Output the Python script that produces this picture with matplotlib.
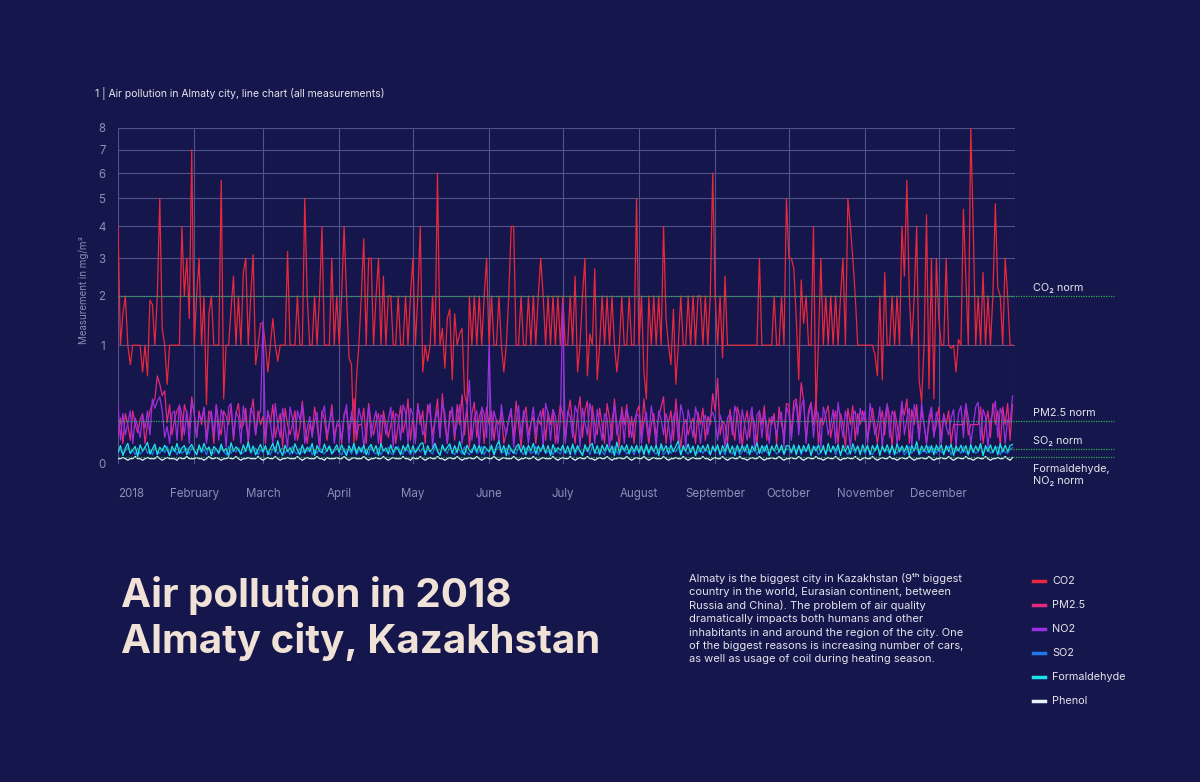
import numpy as np
import matplotlib
matplotlib.use("Agg")
import matplotlib.pyplot as plt
from matplotlib.lines import Line2D

plt.rcParams['font.family'] = ['Inter', 'DejaVu Sans']

# daily values for 2018; CO2 in mg/m3, the rest in µg/m3
co2 = [
    4, 1, 1.6, 2, 1, 0.7, 1, 1, 1, 1, 0.6, 1, 0.55, 1.9, 1.8, 1, 2, 5, 1.3, 1, 0.45, 1, 1, 1, 1, 1, 4, 2, 3, 1.5, 7,  # jan
    1, 2, 3, 1, 2, 0.25, 1.6, 2, 1, 1, 1, 5.7, 0.3, 1, 1, 1.7, 2.5, 1, 2, 1, 2.6, 3, 1, 2, 3.1, 0.7, 1, 1.4,  # feb
    1.4, 1, 0.6, 1, 1.5, 1, 0.75, 1, 1, 1, 3.2, 1, 1, 1, 2, 1, 1, 5, 2, 1, 1, 2, 1, 2, 4, 1, 1, 1, 3, 1, 2,  # mar
    1, 2, 4, 2, 0.8, 0.7, 0.03, 0.5, 1, 2, 3.6, 1, 3, 3, 1, 2, 3, 1, 2.5, 1, 2, 2, 1, 1, 2, 1, 1, 2, 1, 2,  # apr
    3, 1, 2, 4, 0.6, 1, 0.75, 1, 2, 1, 6, 1, 1.3, 0.65, 1.5, 1.7, 0.5, 1.6, 1, 1.2, 1.3, 0.35, 0.25, 2, 1, 2, 1, 2, 1, 2, 3,  # may
    1, 2, 1, 1, 2, 1, 0.6, 1, 2, 4, 4, 1, 1, 2, 1, 1, 2, 1, 2, 1, 2, 3, 2, 1, 2, 1, 2, 1, 2, 1,  # jun
    2, 1, 1, 2, 1, 2.5, 0.6, 1, 2, 3, 0.55, 1.2, 1, 2.7, 0.5, 1, 2, 1, 2, 1, 2, 1, 0.6, 1, 2, 1, 1, 2, 1, 1, 5,  # jul
    1, 2, 0.6, 0.3, 2, 1, 2, 1, 2, 1, 4, 1.5, 1, 0.7, 1.7, 0.45, 1, 2, 1, 1, 2, 1, 2, 1, 2, 2, 1, 2, 1, 2, 6,  # aug
    2, 1, 2, 0.8, 2.5, 1, 1, 1, 1, 1, 1, 1, 1, 1, 1, 1, 1, 1, 3, 1, 1, 1, 1, 1, 2, 1, 1, 2, 1, 5,  # sep
    3, 3, 2.7, 1.5, 0.5, 2.4, 1.4, 2, 1, 1, 4, 0.2, 1, 3, 1, 2, 1, 2, 1, 2, 1, 2, 3, 1, 5, 4, 3, 2, 1, 1, 1,  # oct
    1, 1, 1, 1, 0.85, 0.55, 2, 0.5, 2.6, 1, 1, 2, 1, 2, 1, 4, 2.5, 5.7, 2, 1, 2, 4, 0.5, 0.27, 1, 4.4, 0.4, 3, 0.3, 3,  # nov
    1.5, 1, 1, 3, 1, 0.95, 1, 0.6, 1.1, 1, 4.6, 2.5, 1, 8, 4, 1, 2, 1, 2.6, 1, 2, 1, 2, 4.8, 2.2, 2, 1, 3, 2, 1, 1,  # dec
]
pm25 = [
    60, 150, 30, 180, 110, 40, 200, 110, 70, 140, 180, 30, 110, 200, 260, 300, 550, 450, 330, 380, 120, 250, 60, 140, 200, 240, 40, 250, 180, 90, 320,
    180, 50, 200, 110, 220, 40, 200, 160, 30, 250, 110, 60, 200, 160, 110, 240, 40, 180, 260, 90, 110, 220, 30, 180, 300, 60, 200, 110,
    160, 30, 200, 110, 250, 50, 110, 180, 20, 220, 110, 60, 110, 200, 40, 90, 280, 110, 30, 110, 70, 230, 110, 20, 200, 140, 40, 110, 250, 60, 100,
    110, 30, 180, 200, 80, 160, 300, 40, 110, 110, 220, 30, 260, 110, 60, 130, 180, 20, 200, 110, 50, 110, 200, 30, 110, 240, 70, 130, 300, 40,
    150, 40, 260, 110, 200, 30, 250, 180, 60, 140, 300, 50, 350, 110, 30, 200, 180, 40, 250, 110, 340, 60, 230, 20, 180, 270, 50, 160, 210, 30, 230,
    110, 200, 40, 140, 110, 190, 30, 70, 140, 180, 50, 280, 110, 20, 150, 230, 60, 120, 160, 30, 140, 110, 220, 40, 190, 110, 210, 30, 110, 250,
    170, 40, 160, 290, 110, 30, 180, 320, 50, 200, 280, 20, 240, 110, 60, 220, 110, 30, 260, 150, 40, 300, 110, 20, 230, 110, 250, 50, 160, 30, 190,
    240, 60, 300, 110, 30, 110, 180, 50, 160, 230, 320, 30, 120, 200, 40, 300, 110, 20, 110, 140, 60, 110, 150, 30, 190, 110, 220, 40, 160, 110, 350,
    200, 520, 60, 130, 110, 30, 210, 110, 40, 230, 160, 20, 120, 200, 50, 180, 110, 30, 200, 110, 240, 40, 150, 110, 180, 30, 230, 110, 60, 260,
    250, 60, 280, 300, 110, 470, 280, 40, 200, 270, 110, 300, 30, 150, 110, 180, 240, 50, 120, 200, 30, 180, 110, 20, 220, 110, 240, 40, 180, 110, 200,
    130, 40, 110, 220, 110, 30, 110, 200, 60, 250, 160, 20, 200, 110, 40, 240, 170, 300, 30, 210, 110, 250, 50, 200, 110, 30, 110, 200, 60, 110,
    230, 40, 180, 110, 200, 30, 110, 110, 110, 110, 110, 250, 60, 110, 110, 110, 110, 230, 30, 110, 200, 50, 260, 110, 200, 20, 230, 110, 260, 40, 250,
]
no2 = [
    250, 40, 180, 60, 120, 200, 30, 150, 100, 50, 170, 90, 200, 60, 300, 220, 280, 320, 200, 50, 100, 30, 180, 200, 40, 250, 170, 60, 200, 30, 270,
    190, 50, 170, 140, 230, 30, 120, 200, 60, 250, 40, 210, 150, 20, 230, 260, 50, 190, 160, 30, 240, 130, 40, 220, 180, 60, 160, 200,
    1450, 40, 200, 120, 30, 260, 110, 50, 220, 90, 20, 230, 150, 40, 200, 140, 250, 30, 90, 160, 50, 130, 190, 20, 170, 240, 60, 120, 200, 30, 110,
    140, 40, 160, 250, 30, 190, 100, 60, 220, 140, 20, 90, 240, 50, 130, 200, 30, 170, 150, 60, 140, 230, 20, 180, 160, 40, 250, 190, 30, 220,
    170, 30, 240, 160, 60, 90, 180, 260, 20, 130, 210, 50, 270, 180, 30, 140, 230, 60, 120, 250, 30, 110, 220, 500, 40, 150, 200, 20, 230, 180, 50,
    1000, 40, 200, 130, 30, 250, 110, 60, 150, 220, 20, 120, 240, 50, 200, 130, 30, 110, 230, 60, 150, 200, 20, 260, 180, 40, 210, 160, 30, 130,
    1830, 30, 200, 160, 50, 240, 180, 20, 220, 120, 60, 260, 170, 30, 210, 110, 40, 180, 150, 20, 130, 250, 60, 120, 190, 30, 220, 140, 50, 130, 180,
    160, 30, 130, 190, 50, 240, 120, 20, 200, 140, 60, 180, 110, 30, 160, 190, 40, 250, 170, 20, 210, 120, 50, 230, 150, 30, 130, 170, 60, 160, 190,
    130, 40, 170, 110, 20, 150, 180, 60, 240, 160, 30, 210, 110, 40, 150, 230, 20, 170, 200, 50, 180, 110, 30, 160, 130, 60, 150, 190, 20, 230,
    180, 40, 200, 280, 60, 230, 300, 30, 170, 250, 50, 200, 180, 20, 230, 160, 60, 110, 210, 30, 270, 130, 50, 200, 120, 20, 160, 200, 60, 220, 130,
    200, 30, 260, 150, 60, 100, 230, 20, 140, 260, 50, 200, 160, 30, 120, 280, 60, 150, 220, 20, 250, 170, 40, 270, 110, 30, 160, 230, 50, 190,
    120, 30, 170, 100, 60, 150, 210, 20, 180, 240, 50, 260, 150, 30, 100, 230, 270, 40, 210, 160, 20, 130, 190, 280, 50, 220, 170, 30, 140, 120, 330,
]
so2 = [
    9, 16, 7, 12, 20, 8, 14, 6, 18, 7, 11, 21, 8, 15, 6, 19, 10, 8, 17, 9, 22, 7, 13, 16, 6, 19, 8, 12, 18, 7, 20,
    12, 7, 19, 9, 16, 6, 21, 10, 8, 17, 7, 20, 11, 6, 22, 8, 15, 10, 19, 7, 9, 16, 24, 8, 13, 18, 6, 15,
    9, 18, 10, 6, 16, 21, 7, 13, 19, 8, 15, 6, 22, 10, 7, 18, 9, 16, 11, 21, 6, 14, 8, 19, 12, 7, 16, 22, 8, 11, 18,
    10, 6, 18, 9, 15, 7, 21, 6, 12, 19, 8, 16, 6, 22, 10, 7, 18, 6, 15, 11, 20, 8, 6, 16, 22, 10, 7, 19, 12, 6,
    15, 8, 21, 10, 18, 6, 16, 11, 7, 22, 10, 6, 19, 14, 8, 23, 10, 6, 18, 13, 7, 21, 10, 6, 16, 19, 8, 11, 22, 6, 15,
    10, 19, 6, 15, 22, 8, 11, 18, 6, 16, 10, 7, 21, 12, 6, 19, 14, 8, 10, 22, 6, 16, 19, 8, 11, 15, 6, 18, 10, 7,
    19, 8, 11, 16, 22, 6, 18, 10, 7, 15, 19, 6, 22, 10, 8, 16, 11, 6, 19, 14, 8, 21, 10, 6, 16, 18, 7, 11, 15, 6, 19,
    8, 16, 10, 21, 6, 18, 10, 7, 15, 22, 6, 11, 19, 8, 16, 10, 22, 6, 18, 11, 7, 16, 21, 6, 10, 19, 8, 15, 11, 6, 18,
    10, 19, 8, 15, 6, 22, 10, 7, 18, 16, 6, 11, 21, 8, 15, 10, 19, 6, 16, 8, 22, 10, 6, 18, 15, 7, 11, 19, 6, 16,
    15, 8, 19, 10, 22, 6, 16, 11, 19, 7, 15, 21, 6, 10, 18, 8, 16, 10, 22, 6, 19, 8, 15, 11, 6, 18, 16, 8, 22, 10, 15,
    8, 19, 10, 6, 16, 22, 8, 18, 10, 15, 6, 21, 10, 8, 19, 15, 6, 11, 22, 8, 16, 19, 6, 10, 15, 8, 22, 10, 18, 8,
    19, 10, 8, 15, 22, 6, 18, 11, 16, 8, 21, 10, 6, 19, 15, 8, 11, 22, 6, 16, 19, 8, 11, 15, 21, 6, 18, 10, 8, 15, 19,
]
formaldehyde = [
    10, 24, 5, 18, 30, 8, 14, 22, 4, 26, 12, 20, 33, 7, 16, 28, 6, 20, 12, 25, 15, 5, 22, 11, 30, 8, 18, 24, 6, 19, 27,
    13, 6, 26, 11, 30, 14, 20, 5, 22, 15, 9, 28, 11, 17, 4, 32, 12, 21, 14, 7, 26, 11, 35, 10, 23, 6, 15, 27,
    11, 24, 6, 17, 30, 10, 38, 13, 5, 25, 11, 19, 8, 29, 14, 6, 26, 8, 20, 11, 30, 5, 24, 12, 9, 28, 11, 23, 7, 15, 26,
    10, 26, 12, 5, 24, 11, 30, 8, 21, 10, 25, 6, 19, 27, 11, 24, 5, 30, 12, 18, 7, 26, 9, 21, 15, 6, 24, 12, 28, 9,
    23, 10, 15, 28, 32, 6, 24, 11, 17, 30, 13, 5, 26, 12, 20, 29, 8, 24, 9, 36, 12, 6, 25, 13, 9, 27, 11, 24, 7, 22, 16,
    11, 25, 6, 23, 38, 10, 24, 5, 26, 14, 8, 21, 28, 10, 24, 6, 25, 12, 30, 7, 23, 11, 26, 9, 24, 5, 27, 10, 19, 13,
    25, 9, 23, 6, 28, 10, 24, 12, 5, 26, 11, 23, 30, 8, 24, 6, 25, 12, 27, 10, 23, 5, 34, 9, 24, 12, 26, 7, 23, 11, 25,
    10, 24, 6, 27, 9, 23, 11, 25, 5, 29, 12, 24, 7, 26, 11, 23, 38, 6, 24, 12, 28, 9, 23, 5, 25, 10, 24, 12, 27, 6, 23,
    12, 26, 6, 24, 11, 30, 9, 23, 5, 25, 10, 24, 11, 27, 6, 23, 12, 32, 8, 24, 11, 26, 5, 23, 12, 28, 10, 25, 7, 24,
    23, 10, 26, 6, 25, 9, 24, 11, 28, 5, 23, 12, 26, 9, 24, 6, 30, 10, 23, 12, 27, 5, 25, 11, 24, 7, 29, 12, 23, 6, 26,
    11, 25, 6, 24, 12, 27, 5, 23, 11, 26, 9, 24, 6, 29, 10, 23, 11, 25, 5, 24, 12, 35, 7, 23, 11, 26, 9, 24, 6, 25,
    12, 26, 6, 24, 11, 28, 5, 23, 12, 25, 10, 24, 6, 27, 9, 23, 12, 30, 5, 24, 11, 26, 9, 23, 6, 29, 10, 25, 11, 24, 27,
]
phenol = [
    2, 2, 3, 2, 1, 2, 2, 4, 2, 2, 1, 2, 3, 2, 2, 2, 4, 2, 1, 2, 3, 2, 2, 2, 1, 3, 2, 2, 4, 2, 2,
    2, 3, 2, 2, 1, 2, 4, 2, 2, 3, 2, 1, 2, 2, 3, 2, 2, 4, 2, 1, 2, 2, 3, 2, 2, 2, 4, 2,
    1, 2, 3, 2, 2, 4, 2, 1, 2, 2, 3, 2, 2, 2, 4, 2, 1, 2, 3, 2, 2, 2, 4, 2, 2, 1, 3, 2, 2, 2, 3,
    2, 2, 4, 2, 1, 2, 3, 2, 2, 2, 4, 2, 1, 2, 2, 3, 2, 2, 4, 2, 1, 2, 3, 2, 2, 2, 4, 2, 2, 1,
    3, 2, 2, 4, 2, 1, 2, 3, 2, 2, 4, 2, 2, 1, 2, 3, 2, 2, 4, 2, 1, 2, 2, 3, 2, 2, 4, 2, 1, 2, 3,
    2, 2, 4, 2, 1, 2, 3, 2, 2, 2, 4, 2, 1, 2, 2, 3, 2, 2, 4, 2, 1, 2, 3, 2, 2, 2, 4, 2, 1, 2,
    3, 2, 2, 4, 2, 1, 2, 3, 2, 2, 4, 2, 2, 1, 2, 3, 2, 2, 4, 2, 1, 2, 2, 3, 2, 2, 4, 2, 1, 2, 3,
    2, 2, 4, 2, 1, 2, 3, 2, 2, 2, 4, 2, 1, 2, 2, 3, 2, 2, 4, 2, 1, 2, 3, 2, 2, 2, 4, 2, 2, 1, 2,
    3, 2, 2, 4, 2, 1, 2, 3, 2, 2, 4, 2, 2, 1, 2, 3, 2, 2, 4, 2, 1, 2, 2, 3, 2, 2, 4, 2, 1, 2,
    2, 3, 2, 2, 4, 2, 1, 2, 3, 2, 2, 4, 2, 2, 1, 2, 3, 2, 2, 4, 2, 1, 2, 2, 3, 2, 2, 4, 2, 1, 2,
    3, 2, 2, 4, 2, 1, 2, 3, 2, 2, 4, 2, 2, 1, 2, 3, 2, 2, 4, 2, 1, 2, 2, 3, 2, 2, 4, 2, 1, 2,
    2, 3, 2, 2, 4, 2, 1, 2, 3, 2, 2, 4, 2, 2, 1, 2, 3, 2, 2, 4, 2, 1, 2, 2, 3, 2, 2, 4, 2, 1, 3,
]

month_labels = ['2018', 'February', 'March', 'April', 'May', 'June', 'July',
                'August', 'September', 'October', 'November', 'December']
month_starts = [0, 31, 59, 90, 120, 151, 181, 212, 243, 273, 304, 334]

norm_names = ['CO₂ norm', 'PM2.5 norm', 'SO₂ norm', 'Formaldehyde,\nNO₂ norm']
norm_values = [2.0, 0.13, 0.015, 0.0035]

series_names = ['CO2', 'PM2.5', 'NO2', 'SO2', 'Formaldehyde', 'Phenol']
series_colors = ['#e8283c', '#e3287e', '#9a30e0', '#1f78e8', '#1de3ef', '#e6f4ff']

bg = '#15164b'
grid_c = '#50538a'
muted = '#8c8fb8'
light = '#e4e4ee'

days = np.arange(365)
ug = 1000.0
series = [np.array(co2), np.array(pm25) / ug, np.array(no2) / ug,
          np.array(so2) / ug, np.array(formaldehyde) / ug, np.array(phenol) / ug]

fig = plt.figure(figsize=(12, 7.82), dpi=100, facecolor=bg)
ax = fig.add_axes([118 / 1200, 1 - 464 / 782, 897 / 1200, 336 / 782])
ax.set_facecolor(bg)

ax.set_yscale('function', functions=(lambda v: np.sqrt(np.maximum(v, 0)), lambda v: v ** 2))
ax.set_ylim(0, 8)
ax.set_xlim(0, 365)

# draw order: CO2, NO2 under PM2.5, then the small ones
order = [0, 2, 1, 3, 4, 5]
for i in order:
    ax.plot(days, series[i], color=series_colors[i], lw=0.9, zorder=3 + i)

ax.set_yticks(range(9))
ax.set_yticklabels([str(v) for v in range(9)])
ax.set_xticks(month_starts + [365])
ax.set_xticklabels(month_labels + [''])
ax.get_xticklabels()[0].set_ha('left')
ax.tick_params(axis='both', length=0, colors=muted, labelsize=8.3)
ax.tick_params(axis='x', pad=17)
ax.tick_params(axis='y', pad=9)
ax.grid(True, color=grid_c, lw=0.8)
ax.set_axisbelow(True)
for s in ax.spines.values():
    s.set_visible(False)

# norm lines run past the plot to the labels
trans = ax.get_yaxis_transform()
label_offsets = [6, 6, 6, -13]
for name, val, off in zip(norm_names, norm_values, label_offsets):
    ax.plot([0, 1.11], [val, val], transform=trans, color='#2fae55', lw=0.9,
            ls=(0, (1, 1)), clip_on=False, zorder=20)
    ax.annotate(name, xy=(1.02, val), xycoords=trans, xytext=(0, off),
                textcoords='offset points', va='center', ha='left',
                fontsize=7.8, color=light, linespacing=1.3, annotation_clip=False)

fig.text(84 / 1200, 1 - 290 / 782, 'Measurement in mg/m³', rotation=90,
         ha='center', va='center', fontsize=7, color=muted)
fig.text(95 / 1200, 1 - 93 / 782, '1 | Air pollution in Almaty city, line chart (all measurements)',
         ha='left', va='center', fontsize=7.5, color=light)

fig.text(121 / 1200, 1 - 576 / 782, 'Air pollution in 2018\nAlmaty city, Kazakhstan',
         ha='left', va='top', fontsize=29, fontweight='bold', color='#f0e2d6', linespacing=1.22)

para = ('Almaty is the biggest city in Kazakhstan (9ᵗʰ biggest\n'
        'country in the world, Eurasian continent, between\n'
        'Russia and China). The problem of air quality\n'
        'dramatically impacts both humans and other\n'
        'inhabitants in and around the region of the city. One\n'
        'of the biggest reasons is increasing number of cars,\n'
        'as well as usage of coil during heating season.')
fig.text(689 / 1200, 1 - 573 / 782, para, ha='left', va='top', fontsize=8,
         color=light, linespacing=1.38)

# legend
for k, (name, col) in enumerate(zip(series_names, series_colors)):
    y = 1 - (581 + 24 * k) / 782
    fig.add_artist(Line2D([1033 / 1200, 1045 / 1200], [y, y], color=col, lw=2.5))
    fig.text(1052 / 1200, y, name, ha='left', va='center', fontsize=7.8, color=light)

fig.savefig('out.png', dpi=100, facecolor=bg)
